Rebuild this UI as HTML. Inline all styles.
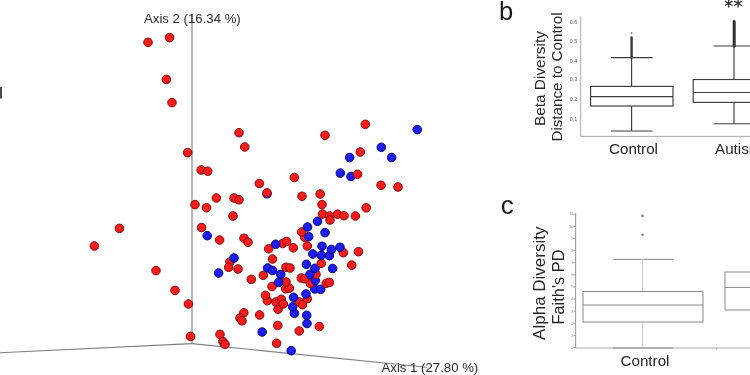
<!DOCTYPE html>
<html><head><meta charset="utf-8"><style>
html,body{margin:0;padding:0;background:#fff;}
body{width:750px;height:375px;overflow:hidden;position:relative;font-family:"Liberation Sans",sans-serif;}
svg{position:absolute;left:0;top:0;will-change:transform;}
</style></head><body>
<svg width="750" height="375" viewBox="0 0 750 375" font-family="Liberation Sans, sans-serif">
<defs>
<radialGradient id="gr" cx="0.45" cy="0.45" r="0.6"><stop offset="0" stop-color="#ff2222"/><stop offset="0.7" stop-color="#f01818"/><stop offset="1" stop-color="#c81414"/></radialGradient>
<radialGradient id="gb" cx="0.45" cy="0.45" r="0.6"><stop offset="0" stop-color="#2424f8"/><stop offset="0.7" stop-color="#1818e8"/><stop offset="1" stop-color="#1212b8"/></radialGradient>
</defs>
<rect x="0" y="87" width="2" height="11.5" fill="#4a4a4a"/>
<!-- 3D axes -->
<line x1="192" y1="14" x2="192" y2="343.6" stroke="#b6b6b6" stroke-width="2"/>
<line x1="0" y1="352.7" x2="192" y2="343.6" stroke="#808080" stroke-width="1.1"/>
<line x1="192" y1="343.6" x2="427" y2="367.2" stroke="#808080" stroke-width="1.1"/>
<text x="144" y="22.8" font-size="13.2" fill="#2a2a2a">Axis 2 (16.34 %)</text>
<text x="381.5" y="371.6" font-size="13.2" fill="#2a2a2a">Axis 1 (27.80 %)</text>
<circle cx="148.0" cy="42.4" r="4.3" fill="url(#gr)" stroke="#861010" stroke-width="1.0"/>
<circle cx="169.6" cy="37.6" r="4.3" fill="url(#gr)" stroke="#861010" stroke-width="1.0"/>
<circle cx="166.4" cy="79.4" r="4.3" fill="url(#gr)" stroke="#861010" stroke-width="1.0"/>
<circle cx="172.0" cy="102.6" r="4.3" fill="url(#gr)" stroke="#861010" stroke-width="1.0"/>
<circle cx="187.7" cy="152.6" r="4.3" fill="url(#gr)" stroke="#861010" stroke-width="1.0"/>
<circle cx="201.2" cy="170.0" r="4.3" fill="url(#gr)" stroke="#861010" stroke-width="1.0"/>
<circle cx="207.7" cy="171.2" r="4.3" fill="url(#gr)" stroke="#861010" stroke-width="1.0"/>
<circle cx="216.4" cy="198.0" r="4.3" fill="url(#gr)" stroke="#861010" stroke-width="1.0"/>
<circle cx="195.0" cy="204.6" r="4.3" fill="url(#gr)" stroke="#861010" stroke-width="1.0"/>
<circle cx="206.5" cy="207.8" r="4.3" fill="url(#gr)" stroke="#861010" stroke-width="1.0"/>
<circle cx="234.0" cy="198.0" r="4.3" fill="url(#gr)" stroke="#861010" stroke-width="1.0"/>
<circle cx="239.0" cy="199.8" r="4.3" fill="url(#gr)" stroke="#861010" stroke-width="1.0"/>
<circle cx="233.0" cy="216.0" r="4.3" fill="url(#gr)" stroke="#861010" stroke-width="1.0"/>
<circle cx="119.4" cy="228.4" r="4.3" fill="url(#gr)" stroke="#861010" stroke-width="1.0"/>
<circle cx="94.4" cy="246.0" r="4.3" fill="url(#gr)" stroke="#861010" stroke-width="1.0"/>
<circle cx="156.0" cy="270.6" r="4.3" fill="url(#gr)" stroke="#861010" stroke-width="1.0"/>
<circle cx="175.0" cy="290.4" r="4.3" fill="url(#gr)" stroke="#861010" stroke-width="1.0"/>
<circle cx="188.4" cy="304.0" r="4.3" fill="url(#gr)" stroke="#861010" stroke-width="1.0"/>
<circle cx="190.6" cy="336.4" r="4.3" fill="url(#gr)" stroke="#861010" stroke-width="1.0"/>
<circle cx="201.6" cy="227.5" r="4.3" fill="url(#gr)" stroke="#861010" stroke-width="1.0"/>
<circle cx="207.2" cy="235.7" r="4.3" fill="url(#gb)" stroke="#0c0c80" stroke-width="1.0"/>
<circle cx="219.6" cy="240.0" r="4.3" fill="url(#gr)" stroke="#861010" stroke-width="1.0"/>
<circle cx="218.6" cy="273.0" r="4.3" fill="url(#gb)" stroke="#0c0c80" stroke-width="1.0"/>
<circle cx="230.0" cy="262.0" r="4.3" fill="url(#gr)" stroke="#861010" stroke-width="1.0"/>
<circle cx="228.7" cy="267.3" r="4.3" fill="url(#gr)" stroke="#861010" stroke-width="1.0"/>
<circle cx="234.0" cy="258.0" r="4.3" fill="url(#gb)" stroke="#0c0c80" stroke-width="1.0"/>
<circle cx="238.0" cy="269.0" r="4.3" fill="url(#gr)" stroke="#861010" stroke-width="1.0"/>
<circle cx="244.0" cy="238.3" r="4.3" fill="url(#gr)" stroke="#861010" stroke-width="1.0"/>
<circle cx="248.0" cy="242.3" r="4.3" fill="url(#gr)" stroke="#861010" stroke-width="1.0"/>
<circle cx="251.3" cy="279.3" r="4.3" fill="url(#gr)" stroke="#861010" stroke-width="1.0"/>
<circle cx="220.0" cy="334.4" r="4.3" fill="url(#gr)" stroke="#861010" stroke-width="1.0"/>
<circle cx="223.0" cy="341.6" r="4.3" fill="url(#gr)" stroke="#861010" stroke-width="1.0"/>
<circle cx="225.0" cy="344.4" r="4.3" fill="url(#gr)" stroke="#861010" stroke-width="1.0"/>
<circle cx="243.8" cy="312.8" r="4.3" fill="url(#gr)" stroke="#861010" stroke-width="1.0"/>
<circle cx="240.0" cy="318.0" r="4.3" fill="url(#gr)" stroke="#861010" stroke-width="1.0"/>
<circle cx="242.0" cy="320.8" r="4.3" fill="url(#gr)" stroke="#861010" stroke-width="1.0"/>
<circle cx="259.6" cy="315.0" r="4.3" fill="url(#gr)" stroke="#861010" stroke-width="1.0"/>
<circle cx="262.2" cy="332.0" r="4.3" fill="url(#gb)" stroke="#0c0c80" stroke-width="1.0"/>
<circle cx="277.8" cy="325.5" r="4.3" fill="url(#gr)" stroke="#861010" stroke-width="1.0"/>
<circle cx="276.6" cy="343.2" r="4.3" fill="url(#gr)" stroke="#861010" stroke-width="1.0"/>
<circle cx="291.2" cy="350.7" r="4.3" fill="url(#gb)" stroke="#0c0c80" stroke-width="1.0"/>
<circle cx="299.3" cy="331.0" r="4.3" fill="url(#gr)" stroke="#861010" stroke-width="1.0"/>
<circle cx="319.3" cy="326.5" r="4.3" fill="url(#gr)" stroke="#861010" stroke-width="1.0"/>
<circle cx="307.0" cy="323.5" r="4.3" fill="url(#gb)" stroke="#0c0c80" stroke-width="1.0"/>
<circle cx="306.7" cy="315.3" r="4.3" fill="url(#gb)" stroke="#0c0c80" stroke-width="1.0"/>
<circle cx="294.4" cy="313.3" r="4.3" fill="url(#gb)" stroke="#0c0c80" stroke-width="1.0"/>
<circle cx="292.7" cy="306.7" r="4.3" fill="url(#gb)" stroke="#0c0c80" stroke-width="1.0"/>
<circle cx="278.0" cy="309.3" r="4.3" fill="url(#gr)" stroke="#861010" stroke-width="1.0"/>
<circle cx="267.3" cy="300.7" r="4.3" fill="url(#gr)" stroke="#861010" stroke-width="1.0"/>
<circle cx="265.5" cy="295.3" r="4.3" fill="url(#gr)" stroke="#861010" stroke-width="1.0"/>
<circle cx="276.0" cy="302.0" r="4.3" fill="url(#gr)" stroke="#861010" stroke-width="1.0"/>
<circle cx="281.3" cy="299.3" r="4.3" fill="url(#gr)" stroke="#861010" stroke-width="1.0"/>
<circle cx="283.3" cy="304.0" r="4.3" fill="url(#gr)" stroke="#861010" stroke-width="1.0"/>
<circle cx="299.3" cy="302.0" r="4.3" fill="url(#gr)" stroke="#861010" stroke-width="1.0"/>
<circle cx="302.4" cy="304.7" r="4.3" fill="url(#gr)" stroke="#861010" stroke-width="1.0"/>
<circle cx="293.6" cy="297.3" r="4.3" fill="url(#gb)" stroke="#0c0c80" stroke-width="1.0"/>
<circle cx="307.3" cy="298.7" r="4.3" fill="url(#gr)" stroke="#861010" stroke-width="1.0"/>
<circle cx="306.0" cy="294.0" r="4.3" fill="url(#gb)" stroke="#0c0c80" stroke-width="1.0"/>
<circle cx="314.7" cy="289.0" r="4.3" fill="url(#gb)" stroke="#0c0c80" stroke-width="1.0"/>
<circle cx="320.7" cy="289.3" r="4.3" fill="url(#gb)" stroke="#0c0c80" stroke-width="1.0"/>
<circle cx="285.6" cy="288.8" r="4.3" fill="url(#gr)" stroke="#861010" stroke-width="1.0"/>
<circle cx="289.3" cy="288.2" r="4.3" fill="url(#gr)" stroke="#861010" stroke-width="1.0"/>
<circle cx="272.0" cy="286.5" r="4.3" fill="url(#gr)" stroke="#861010" stroke-width="1.0"/>
<circle cx="286.0" cy="282.0" r="4.3" fill="url(#gr)" stroke="#861010" stroke-width="1.0"/>
<circle cx="278.7" cy="282.4" r="4.3" fill="url(#gb)" stroke="#0c0c80" stroke-width="1.0"/>
<circle cx="310.4" cy="283.3" r="4.3" fill="url(#gr)" stroke="#861010" stroke-width="1.0"/>
<circle cx="326.3" cy="283.3" r="4.3" fill="url(#gr)" stroke="#861010" stroke-width="1.0"/>
<circle cx="329.3" cy="282.4" r="4.3" fill="url(#gr)" stroke="#861010" stroke-width="1.0"/>
<circle cx="315.3" cy="280.5" r="4.3" fill="url(#gb)" stroke="#0c0c80" stroke-width="1.0"/>
<circle cx="301.3" cy="278.0" r="4.3" fill="url(#gr)" stroke="#861010" stroke-width="1.0"/>
<circle cx="304.7" cy="278.7" r="4.3" fill="url(#gr)" stroke="#861010" stroke-width="1.0"/>
<circle cx="316.0" cy="274.4" r="4.3" fill="url(#gr)" stroke="#861010" stroke-width="1.0"/>
<circle cx="310.0" cy="274.4" r="4.3" fill="url(#gb)" stroke="#0c0c80" stroke-width="1.0"/>
<circle cx="280.7" cy="274.4" r="4.3" fill="url(#gb)" stroke="#0c0c80" stroke-width="1.0"/>
<circle cx="263.3" cy="275.3" r="4.3" fill="url(#gr)" stroke="#861010" stroke-width="1.0"/>
<circle cx="267.6" cy="268.0" r="4.3" fill="url(#gb)" stroke="#0c0c80" stroke-width="1.0"/>
<circle cx="272.5" cy="270.4" r="4.3" fill="url(#gb)" stroke="#0c0c80" stroke-width="1.0"/>
<circle cx="286.0" cy="267.3" r="4.3" fill="url(#gr)" stroke="#861010" stroke-width="1.0"/>
<circle cx="290.0" cy="268.0" r="4.3" fill="url(#gr)" stroke="#861010" stroke-width="1.0"/>
<circle cx="315.0" cy="268.3" r="4.3" fill="url(#gb)" stroke="#0c0c80" stroke-width="1.0"/>
<circle cx="332.6" cy="268.5" r="4.3" fill="url(#gb)" stroke="#0c0c80" stroke-width="1.0"/>
<circle cx="351.7" cy="265.1" r="4.3" fill="url(#gr)" stroke="#861010" stroke-width="1.0"/>
<circle cx="306.4" cy="264.3" r="4.3" fill="url(#gb)" stroke="#0c0c80" stroke-width="1.0"/>
<circle cx="321.3" cy="263.3" r="4.3" fill="url(#gr)" stroke="#861010" stroke-width="1.0"/>
<circle cx="272.5" cy="259.0" r="4.3" fill="url(#gr)" stroke="#861010" stroke-width="1.0"/>
<circle cx="312.7" cy="254.0" r="4.3" fill="url(#gb)" stroke="#0c0c80" stroke-width="1.0"/>
<circle cx="321.3" cy="255.3" r="4.3" fill="url(#gb)" stroke="#0c0c80" stroke-width="1.0"/>
<circle cx="329.3" cy="255.7" r="4.3" fill="url(#gb)" stroke="#0c0c80" stroke-width="1.0"/>
<circle cx="358.5" cy="251.7" r="4.3" fill="url(#gr)" stroke="#861010" stroke-width="1.0"/>
<circle cx="343.3" cy="252.7" r="4.3" fill="url(#gr)" stroke="#861010" stroke-width="1.0"/>
<circle cx="340.0" cy="247.3" r="4.3" fill="url(#gb)" stroke="#0c0c80" stroke-width="1.0"/>
<circle cx="331.3" cy="249.5" r="4.3" fill="url(#gb)" stroke="#0c0c80" stroke-width="1.0"/>
<circle cx="322.0" cy="246.3" r="4.3" fill="url(#gb)" stroke="#0c0c80" stroke-width="1.0"/>
<circle cx="307.3" cy="246.0" r="4.3" fill="url(#gr)" stroke="#861010" stroke-width="1.0"/>
<circle cx="293.3" cy="247.8" r="4.3" fill="url(#gr)" stroke="#861010" stroke-width="1.0"/>
<circle cx="268.7" cy="248.8" r="4.3" fill="url(#gr)" stroke="#861010" stroke-width="1.0"/>
<circle cx="282.7" cy="243.5" r="4.3" fill="url(#gr)" stroke="#861010" stroke-width="1.0"/>
<circle cx="286.5" cy="241.5" r="4.3" fill="url(#gr)" stroke="#861010" stroke-width="1.0"/>
<circle cx="275.7" cy="244.3" r="4.3" fill="url(#gb)" stroke="#0c0c80" stroke-width="1.0"/>
<circle cx="304.7" cy="237.3" r="4.3" fill="url(#gr)" stroke="#861010" stroke-width="1.0"/>
<circle cx="308.7" cy="236.7" r="4.3" fill="url(#gb)" stroke="#0c0c80" stroke-width="1.0"/>
<circle cx="301.6" cy="232.0" r="4.3" fill="url(#gr)" stroke="#861010" stroke-width="1.0"/>
<circle cx="325.0" cy="232.6" r="4.3" fill="url(#gb)" stroke="#0c0c80" stroke-width="1.0"/>
<circle cx="307.5" cy="227.0" r="4.3" fill="url(#gb)" stroke="#0c0c80" stroke-width="1.0"/>
<circle cx="317.5" cy="221.3" r="4.3" fill="url(#gb)" stroke="#0c0c80" stroke-width="1.0"/>
<circle cx="322.5" cy="214.0" r="4.3" fill="url(#gr)" stroke="#861010" stroke-width="1.0"/>
<circle cx="329.6" cy="216.0" r="4.3" fill="url(#gr)" stroke="#861010" stroke-width="1.0"/>
<circle cx="330.0" cy="220.0" r="4.3" fill="url(#gr)" stroke="#861010" stroke-width="1.0"/>
<circle cx="337.5" cy="214.2" r="4.3" fill="url(#gr)" stroke="#861010" stroke-width="1.0"/>
<circle cx="344.0" cy="215.7" r="4.3" fill="url(#gr)" stroke="#861010" stroke-width="1.0"/>
<circle cx="355.4" cy="216.0" r="4.3" fill="url(#gr)" stroke="#861010" stroke-width="1.0"/>
<circle cx="366.2" cy="207.8" r="4.3" fill="url(#gr)" stroke="#861010" stroke-width="1.0"/>
<circle cx="322.0" cy="204.6" r="4.3" fill="url(#gr)" stroke="#861010" stroke-width="1.0"/>
<circle cx="320.2" cy="194.0" r="4.3" fill="url(#gr)" stroke="#861010" stroke-width="1.0"/>
<circle cx="302.0" cy="196.3" r="4.3" fill="url(#gr)" stroke="#861010" stroke-width="1.0"/>
<circle cx="294.3" cy="177.5" r="4.3" fill="url(#gr)" stroke="#861010" stroke-width="1.0"/>
<circle cx="259.3" cy="183.5" r="4.3" fill="url(#gr)" stroke="#861010" stroke-width="1.0"/>
<circle cx="267.0" cy="193.8" r="4.3" fill="url(#gb)" stroke="#0c0c80" stroke-width="1.0"/>
<circle cx="267.0" cy="192.8" r="4.3" fill="url(#gr)" stroke="#861010" stroke-width="1.0"/>
<circle cx="239.0" cy="132.7" r="4.3" fill="url(#gr)" stroke="#861010" stroke-width="1.0"/>
<circle cx="244.7" cy="147.0" r="4.3" fill="url(#gr)" stroke="#861010" stroke-width="1.0"/>
<circle cx="325.0" cy="135.3" r="4.3" fill="url(#gr)" stroke="#861010" stroke-width="1.0"/>
<circle cx="365.3" cy="124.3" r="4.3" fill="url(#gr)" stroke="#861010" stroke-width="1.0"/>
<circle cx="417.2" cy="129.6" r="4.3" fill="url(#gb)" stroke="#0c0c80" stroke-width="1.0"/>
<circle cx="381.3" cy="147.3" r="4.3" fill="url(#gb)" stroke="#0c0c80" stroke-width="1.0"/>
<circle cx="360.3" cy="152.0" r="4.3" fill="url(#gr)" stroke="#861010" stroke-width="1.0"/>
<circle cx="349.7" cy="157.5" r="4.3" fill="url(#gb)" stroke="#0c0c80" stroke-width="1.0"/>
<circle cx="391.6" cy="157.5" r="4.3" fill="url(#gb)" stroke="#0c0c80" stroke-width="1.0"/>
<circle cx="340.3" cy="173.1" r="4.3" fill="url(#gb)" stroke="#0c0c80" stroke-width="1.0"/>
<circle cx="351.0" cy="176.5" r="4.3" fill="url(#gb)" stroke="#0c0c80" stroke-width="1.0"/>
<circle cx="357.5" cy="174.3" r="4.3" fill="url(#gr)" stroke="#861010" stroke-width="1.0"/>
<circle cx="381.0" cy="185.3" r="4.3" fill="url(#gr)" stroke="#861010" stroke-width="1.0"/>
<circle cx="398.0" cy="187.0" r="4.3" fill="url(#gr)" stroke="#861010" stroke-width="1.0"/>
<!-- panel b -->
<text x="499" y="19.6" font-size="25.5" fill="#1a1a1a">b</text>
<text transform="translate(545,78.6) rotate(-90)" font-size="15.4" fill="#262626" text-anchor="middle">Beta Diversity</text>
<text transform="translate(562.3,77.0) rotate(-90)" font-size="15.2" fill="#262626" text-anchor="middle">Distance to Control</text>
<text x="577.3" y="23.8" font-size="5.4" fill="#555" text-anchor="end">0.6</text>
<text x="577.3" y="43.099999999999994" font-size="5.4" fill="#555" text-anchor="end">0.5</text>
<text x="577.3" y="62.8" font-size="5.4" fill="#555" text-anchor="end">0.4</text>
<text x="577.3" y="81.3" font-size="5.4" fill="#555" text-anchor="end">0.3</text>
<text x="577.3" y="101.3" font-size="5.4" fill="#555" text-anchor="end">0.2</text>
<text x="577.3" y="120.8" font-size="5.4" fill="#555" text-anchor="end">0.1</text>
<line x1="580.7" y1="16.4" x2="580.7" y2="136.4" stroke="#aaa" stroke-width="1"/>
<line x1="580.7" y1="136.4" x2="750" y2="136.4" stroke="#aaa" stroke-width="1"/>
<g stroke="#3c3c3c" stroke-width="1.15" fill="none">
<rect x="590.6" y="86.4" width="82.4" height="19.6"/>
<line x1="590.6" y1="96.6" x2="673" y2="96.6"/>
<line x1="631.6" y1="57.6" x2="631.6" y2="86.4"/>
<line x1="631.6" y1="106" x2="631.6" y2="131"/>
<line x1="611" y1="57.6" x2="652.6" y2="57.6"/>
<line x1="611" y1="131" x2="652.6" y2="131"/>
<rect x="693.2" y="79.5" width="80" height="22.9"/>
<line x1="693.2" y1="92.5" x2="760" y2="92.5"/>
<line x1="734" y1="46" x2="734" y2="79.5"/>
<line x1="734" y1="102.4" x2="734" y2="123.7"/>
<line x1="713.6" y1="46" x2="755" y2="46"/>
<line x1="713.6" y1="123.7" x2="755" y2="123.7"/>
</g>
<line x1="631.6" y1="37.5" x2="631.6" y2="57.6" stroke="#3a3a3a" stroke-width="2.4" stroke-linecap="round"/>
<circle cx="631.6" cy="33" r="1.1" fill="#888"/>
<line x1="734.2" y1="21.6" x2="734.2" y2="46" stroke="#2e2e2e" stroke-width="3" stroke-linecap="round"/>
<g stroke="#333" stroke-width="1.3" stroke-linecap="round">
<line x1="728.7" y1="-0.5" x2="728.7" y2="7.1"/><line x1="725.4" y1="1.4" x2="732" y2="5.2"/><line x1="725.4" y1="5.2" x2="732" y2="1.4"/>
<line x1="738" y1="-0.5" x2="738" y2="7.1"/><line x1="734.7" y1="1.4" x2="741.3" y2="5.2"/><line x1="734.7" y1="5.2" x2="741.3" y2="1.4"/>
</g>
<text x="609" y="153.6" font-size="15.2" fill="#262626">Control</text>
<text x="715" y="153.6" font-size="15.2" fill="#262626">Autism</text>
<!-- panel c -->
<text x="500.8" y="213.8" font-size="26" fill="#1a1a1a">c</text>
<text transform="translate(545.3,283.2) rotate(-90)" font-size="17" fill="#262626" text-anchor="middle">Alpha Diversity</text>
<text transform="translate(563.5,287) rotate(-90)" font-size="16.4" fill="#262626" text-anchor="middle">Faith's PD</text>
<line x1="573.5" y1="347.6" x2="576" y2="347.6" stroke="#888" stroke-width="0.8"/>
<text x="573.5" y="348.9" font-size="4" fill="#888" text-anchor="end">0</text>
<line x1="573.5" y1="335.5" x2="576" y2="335.5" stroke="#888" stroke-width="0.8"/>
<text x="573.5" y="336.8" font-size="4" fill="#888" text-anchor="end">1</text>
<line x1="573.5" y1="323.3" x2="576" y2="323.3" stroke="#888" stroke-width="0.8"/>
<text x="573.5" y="324.6" font-size="4" fill="#888" text-anchor="end">2</text>
<line x1="573.5" y1="311.2" x2="576" y2="311.2" stroke="#888" stroke-width="0.8"/>
<text x="573.5" y="312.5" font-size="4" fill="#888" text-anchor="end">3</text>
<line x1="573.5" y1="299.0" x2="576" y2="299.0" stroke="#888" stroke-width="0.8"/>
<text x="573.5" y="300.3" font-size="4" fill="#888" text-anchor="end">4</text>
<line x1="573.5" y1="286.9" x2="576" y2="286.9" stroke="#888" stroke-width="0.8"/>
<text x="573.5" y="288.2" font-size="4" fill="#888" text-anchor="end">5</text>
<line x1="573.5" y1="274.8" x2="576" y2="274.8" stroke="#888" stroke-width="0.8"/>
<text x="573.5" y="276.1" font-size="4" fill="#888" text-anchor="end">6</text>
<line x1="573.5" y1="262.6" x2="576" y2="262.6" stroke="#888" stroke-width="0.8"/>
<text x="573.5" y="263.9" font-size="4" fill="#888" text-anchor="end">7</text>
<line x1="573.5" y1="250.5" x2="576" y2="250.5" stroke="#888" stroke-width="0.8"/>
<text x="573.5" y="251.8" font-size="4" fill="#888" text-anchor="end">8</text>
<line x1="573.5" y1="238.3" x2="576" y2="238.3" stroke="#888" stroke-width="0.8"/>
<text x="573.5" y="239.6" font-size="4" fill="#888" text-anchor="end">9</text>
<line x1="573.5" y1="226.2" x2="576" y2="226.2" stroke="#888" stroke-width="0.8"/>
<text x="573.5" y="227.5" font-size="4" fill="#888" text-anchor="end">10</text>
<line x1="573.5" y1="214.1" x2="576" y2="214.1" stroke="#888" stroke-width="0.8"/>
<text x="573.5" y="215.4" font-size="4" fill="#888" text-anchor="end">11</text>
<line x1="575.6" y1="213.6" x2="575.6" y2="348" stroke="#999" stroke-width="1"/>
<line x1="575.6" y1="348" x2="750" y2="348" stroke="#aaa" stroke-width="1"/>
<line x1="716.7" y1="348" x2="716.7" y2="350" stroke="#aaa" stroke-width="0.8"/>
<g stroke="#8a8a8a" stroke-width="1.0" fill="none">
<rect x="583" y="291.5" width="120" height="30.5"/>
<line x1="583" y1="305" x2="703" y2="305"/>
<line x1="613" y1="259.4" x2="673" y2="259.4"/>
<line x1="613" y1="348" x2="673" y2="348"/>
<rect x="725" y="272" width="40" height="38"/>
<line x1="725" y1="287.4" x2="760" y2="287.4"/>
</g>
<line x1="642.6" y1="259.4" x2="642.6" y2="291.5" stroke="#c8c8c8" stroke-width="1"/>
<line x1="642.6" y1="322" x2="642.6" y2="348" stroke="#c8c8c8" stroke-width="1"/>
<circle cx="642.6" cy="216" r="1.4" fill="#8c8c8c"/>
<circle cx="642.6" cy="234.8" r="1.4" fill="#8c8c8c"/>
<text x="620.5" y="366.3" font-size="15.2" fill="#262626">Control</text>
</svg>
</body></html>
